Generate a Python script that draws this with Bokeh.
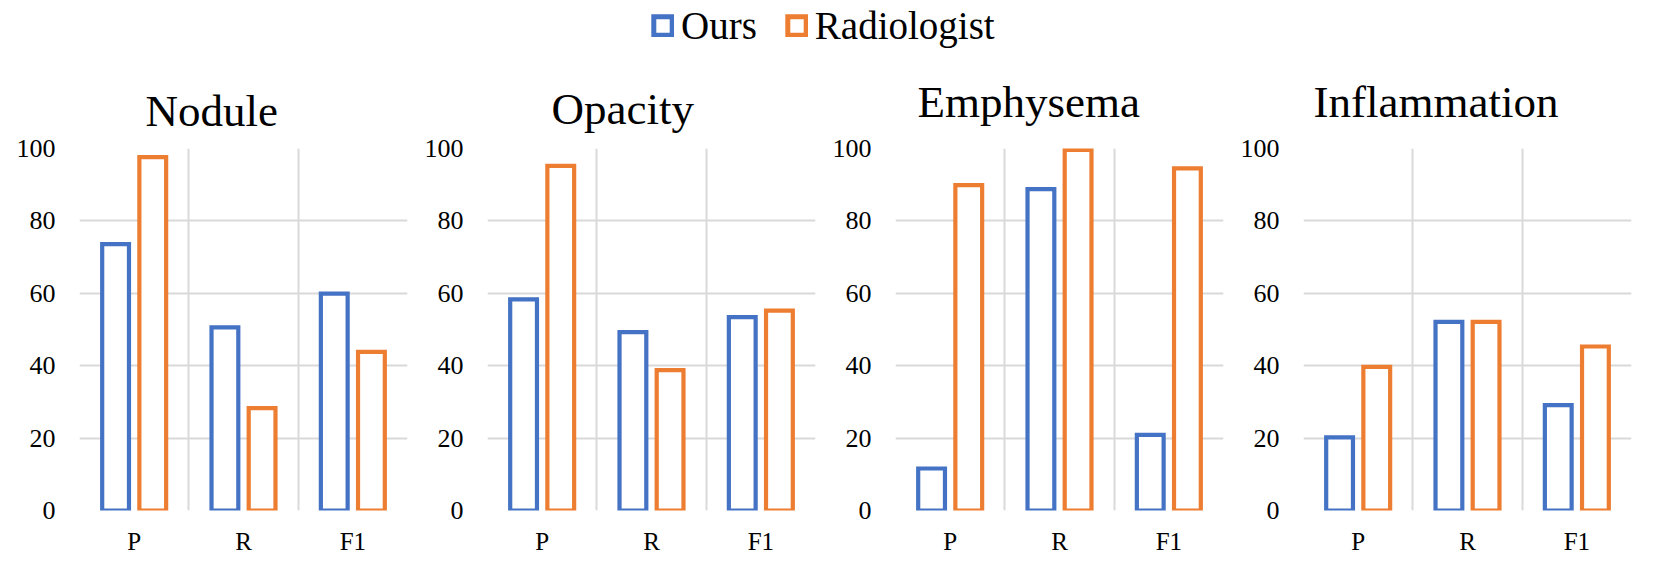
from bokeh.plotting import figure
from bokeh.models import FactorRange, Range1d, FixedTicker, Legend, LegendItem, ColumnDataSource
from bokeh.transform import dodge
from bokeh.layouts import column, row
from bokeh.embed import file_html
from bokeh.resources import INLINE

# ---- data ----
metrics = ["P", "R", "F1"]
diseases = ["Nodule", "Opacity", "Emphysema", "Inflammation"]
series = ["Ours", "Radiologist"]
ours_nodule = [73.6, 50.6, 59.9]
rad_nodule = [97.6, 28.3, 43.8]
ours_opacity = [58.3, 49.3, 53.4]
rad_opacity = [95.2, 38.8, 55.2]
ours_emphysema = [11.6, 88.8, 20.9]
rad_emphysema = [89.9, 99.6, 94.5]
ours_inflammation = [20.2, 52.1, 29.1]
rad_inflammation = [39.7, 52.1, 45.3]
y_ticks = [0, 20, 40, 60, 80, 100]

ours_all = [ours_nodule, ours_opacity, ours_emphysema, ours_inflammation]
rad_all = [rad_nodule, rad_opacity, rad_emphysema, rad_inflammation]

BLUE = "#4472C4"
ORANGE = "#ED7D31"
GRID = "#D9D9D9"
FONT = "Liberation Serif"

title_offsets = [66, 64, 22, 10]
title_standoffs = [26, 30, 43, 43]
left_borders = [79, 71, 71, 71]

figs = []
for i, name in enumerate(diseases):
    src = ColumnDataSource(dict(metric=metrics, ours=ours_all[i], rad=rad_all[i]))
    p = figure(x_range=FactorRange(factors=metrics), y_range=Range1d(0, 100),
               frame_width=328, frame_height=362,
               min_border_left=left_borders[i], min_border_right=9, min_border_top=96, min_border_bottom=54,
               output_backend="svg", toolbar_location=None, title=name)
    p.outline_line_color = None
    p.background_fill_color = "white"
    p.border_fill_color = "white"
    p.title.text_font = FONT
    p.title.text_font_size = "45px"
    p.title.text_font_style = "normal"
    p.title.text_color = "black"
    p.title.align = "left"
    p.title.offset = title_offsets[i]
    p.title.standoff = title_standoffs[i]

    p.vbar(x=dodge("metric", -0.17, range=p.x_range), top="ours", width=0.245, source=src,
           fill_color="white", line_color=BLUE, line_width=4.2, line_join="miter")
    p.vbar(x=dodge("metric", 0.17, range=p.x_range), top="rad", width=0.245, source=src,
           fill_color="white", line_color=ORANGE, line_width=4.2, line_join="miter")

    p.xgrid.ticker = FixedTicker(ticks=[0, 1, 2, 3])
    p.xgrid.grid_line_color = GRID
    p.xgrid.grid_line_width = 2
    p.ygrid.ticker = FixedTicker(ticks=y_ticks)
    p.ygrid.grid_line_color = GRID
    p.ygrid.grid_line_width = 2

    p.yaxis.ticker = FixedTicker(ticks=y_ticks)
    for ax in (p.xaxis[0], p.yaxis[0]):
        ax.axis_line_color = None
        ax.major_tick_line_color = None
        ax.minor_tick_line_color = None
        ax.major_tick_out = 0
        ax.major_tick_in = 0
        ax.minor_tick_out = 0
        ax.minor_tick_in = 0
        ax.major_label_text_font = FONT
        ax.major_label_text_color = "black"
    p.yaxis.major_label_text_font_size = "26px"
    p.yaxis.major_label_standoff = 24
    p.xaxis.major_label_text_font_size = "25px"
    p.xaxis.major_label_standoff = 17
    figs.append(p)

# ---- legend strip ----
lg = figure(width=1645, height=52, x_range=Range1d(0, 1), y_range=Range1d(0, 1),
            min_border=0, output_backend="svg", toolbar_location=None,
            x_axis_location=None, y_axis_location=None)
lg.outline_line_color = None
lg.xgrid.visible = False
lg.ygrid.visible = False
# swatch renderers: not drawn themselves, only their legend entries show
swatch = ColumnDataSource(dict(x=[0.5], top=[0.5]))
r1 = lg.vbar(x="x", top="top", width=0.1, source=swatch, fill_color="white",
             line_color=BLUE, line_width=5, line_join="miter", visible=False)
r2 = lg.vbar(x="x", top="top", width=0.1, source=swatch, fill_color="white",
             line_color=ORANGE, line_width=5, line_join="miter", visible=False)
legend = Legend(items=[LegendItem(label=series[0], renderers=[r1]), LegendItem(label=series[1], renderers=[r2])],
                orientation="horizontal", location=(651, 4), padding=0, margin=0, spacing=28,
                label_standoff=7, glyph_width=23, glyph_height=23,
                label_text_font=FONT, label_text_font_size="39px", label_text_color="black",
                border_line_color=None, background_fill_alpha=0, inactive_fill_alpha=0)
lg.add_layout(legend, "center")

layout = column(lg, row(*figs, spacing=0), spacing=0)
open("out.html", "w").write(file_html(layout, INLINE))
